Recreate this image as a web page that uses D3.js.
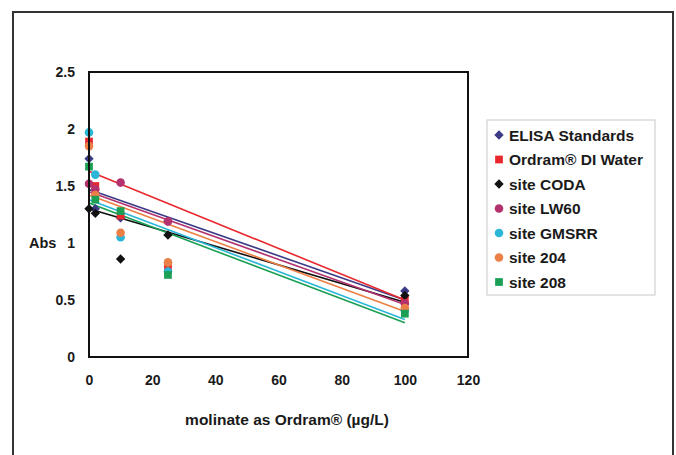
<!DOCTYPE html>
<html>
<head>
<meta charset="utf-8">
<script src="https://cdn.jsdelivr.net/npm/d3@7"></script>
<style>
  body { margin: 0; background: #fff; }
  text { font-family: "Liberation Sans", Arial, sans-serif; font-weight: bold; fill: #1a1a1a; }
</style>
</head>
<body>
<svg id="chart" width="676" height="455"></svg>
<script>
// concentrations (µg/L) where wells were read
const xValues = [0, 2, 10, 25, 100];
const seriesNames = ["ELISA Standards", "Ordram® DI Water", "site CODA", "site LW60", "site GMSRR", "site 204", "site 208"];
const seriesColors = ["#3b3a86", "#e8282c", "#111111", "#b3326e", "#2bb6d8", "#ec7f45", "#1a9f55"];
const seriesShapes = ["diamond", "square", "diamond", "circle", "circle", "circle", "square"];

// absorbance per series at xValues
const elisaAbs  = [1.74, 1.30, 1.22, 1.19, 0.58];
const ordramAbs = [1.89, 1.50, 1.24, 0.78, 0.50];
const codaAbs   = [1.30, 1.26, 0.86, 1.07, 0.54];
const lw60Abs   = [1.52, 1.47, 1.53, 1.19, 0.47];
const gmsrrAbs  = [1.97, 1.60, 1.05, 0.75, 0.41];
const s204Abs   = [1.85, 1.42, 1.09, 0.83, 0.43];
const s208Abs   = [1.67, 1.38, 1.28, 0.72, 0.38];
const seriesValues = [elisaAbs, ordramAbs, codaAbs, lw60Abs, gmsrrAbs, s204Abs, s208Abs];

// linear trendlines: value at x = 0 and x = 100
const trendStart = [1.47, 1.63, 1.30, 1.45, 1.38, 1.42, 1.35];
const trendEnd   = [0.50, 0.50, 0.48, 0.46, 0.33, 0.40, 0.30];
const trendX = [0, 100];

const xTicks = [0, 20, 40, 60, 80, 100, 120];
const yTicks = [0, 0.5, 1, 1.5, 2, 2.5];

const svg = d3.select("#chart");
svg.append("rect").attr("width", 676).attr("height", 455).attr("fill", "#fff");

// outer frame
svg.append("rect")
    .attr("x", 13).attr("y", 12).attr("width", 660).attr("height", 470)
    .attr("fill", "none").attr("stroke", "#333").attr("stroke-width", 2);

const plot = { left: 89, right: 468, top: 72, bottom: 357 };
const x = d3.scaleLinear().domain([0, 120]).range([plot.left, plot.right]);
const y = d3.scaleLinear().domain([0, 2.5]).range([plot.bottom, plot.top]);

// tick labels
const xAxis = svg.append("g").attr("transform", `translate(0,${plot.bottom})`)
    .call(d3.axisBottom(x).tickValues(xTicks).tickSize(0).tickPadding(18).tickFormat(d3.format("d")));
const yAxis = svg.append("g").attr("transform", `translate(${plot.left},0)`)
    .call(d3.axisLeft(y).tickValues(yTicks).tickSize(0).tickPadding(14).tickFormat(d => d));
[xAxis, yAxis].forEach(a => {
    a.select(".domain").remove();
    a.selectAll("text").style("font-size", "14px").attr("fill", "#1a1a1a");
});

svg.append("text")
    .attr("x", 287).attr("y", 425)
    .attr("text-anchor", "middle")
    .style("font-size", "15.5px")
    .text("molinate as Ordram® (µg/L)");

svg.append("text")
    .attr("x", 29).attr("y", 248)
    .style("font-size", "14.5px")
    .text("Abs");

// trendlines
const line = d3.line().x(d => x(d[0])).y(d => y(d[1]));
seriesNames.forEach((name, i) => {
    svg.append("path")
        .datum(trendX.map((xv, k) => [xv, k === 0 ? trendStart[i] : trendEnd[i]]))
        .attr("d", line)
        .attr("fill", "none")
        .attr("stroke", seriesColors[i])
        .attr("stroke-width", 1.6);
});

function symbolFor(shape) {
    if (shape === "square") return d3.symbol(d3.symbolSquare, 60)();
    if (shape === "diamond") return d3.symbol(d3.symbolSquare, 44)();
    return d3.symbol(d3.symbolCircle, 58)();
}
const rot = shape => shape === "diamond" ? " rotate(45)" : "";

// markers
seriesNames.forEach((name, i) => {
    svg.append("g").selectAll("path")
        .data(seriesValues[i].map((v, k) => [xValues[k], v]))
        .enter().append("path")
        .attr("transform", d => `translate(${x(d[0])},${y(d[1])})` + rot(seriesShapes[i]))
        .attr("d", symbolFor(seriesShapes[i]))
        .attr("fill", seriesColors[i]);
});

// plot area border
svg.append("rect")
    .attr("x", plot.left).attr("y", plot.top)
    .attr("width", plot.right - plot.left).attr("height", plot.bottom - plot.top)
    .attr("fill", "none").attr("stroke", "#111").attr("stroke-width", 2);

// legend
const legend = svg.append("g");
legend.append("rect")
    .attr("x", 487).attr("y", 120).attr("width", 168).attr("height", 175)
    .attr("fill", "#fff").attr("stroke", "#c8c8c8").attr("stroke-width", 1);
seriesNames.forEach((name, i) => {
    const ly = 135 + i * 24.5;
    legend.append("path")
        .attr("transform", `translate(499,${ly})` + rot(seriesShapes[i]))
        .attr("d", symbolFor(seriesShapes[i]))
        .attr("fill", seriesColors[i]);
    legend.append("text")
        .attr("x", 509).attr("y", ly + 5.5)
        .style("font-size", "15.5px")
        .text(name);
});
</script>
</body>
</html>
